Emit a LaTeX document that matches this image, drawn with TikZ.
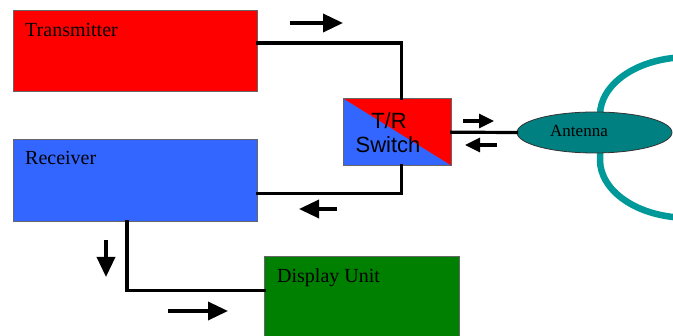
\documentclass[tikz,border=0pt]{standalone}
\usepackage{fontspec}
\setmainfont{Liberation Serif}
\newfontfamily\arialfont{Liberation Sans}
\usetikzlibrary{arrows.meta,shapes.geometric}
\definecolor{txred}{RGB}{255,0,0}
\definecolor{rxblue}{RGB}{51,102,255}
\definecolor{dgreen}{RGB}{0,128,0}
\definecolor{antteal}{RGB}{0,128,128}
\definecolor{loopteal}{RGB}{0,153,153}
\tikzset{
  blockbox/.style={rectangle, draw=black!60, line width=0.8pt, inner sep=0pt, anchor=north west},
  blocklabel/.style={anchor=base west, inner sep=0pt, font=\fontsize{20}{24}\selectfont},
  conn/.style={line width=3.2pt, line cap=rect},
  bigarrow/.style={line width=3.5pt, -{Triangle[length=20pt,width=18pt]}},
  smallarrow/.style={line width=3.2pt, -{Triangle[length=15pt,width=14pt]}},
}
\begin{document}
\begin{tikzpicture}[x=1pt,y=-1pt]
\useasboundingbox (0,0) rectangle (673,336);
% boxes
\node[blockbox, fill=txred, minimum width=244pt, minimum height=81pt] (tx) at (12.5,10.5) {};
\node[blocklabel] (txl) at (25,37) {Transmitter};
\node[blockbox, fill=rxblue, minimum width=244pt, minimum height=82pt] (rx) at (12.5,139) {};
\node[blocklabel] (rxl) at (25,165) {Receiver};
\node[blockbox, fill=dgreen, minimum width=195pt, minimum height=90pt] (dsp) at (264,256) {};
\node[blocklabel] (dspl) at (277,283) {Display Unit};
% T/R switch
\node[blockbox, fill=txred, minimum width=108pt, minimum height=67pt,
  path picture={\fill[rxblue] (path picture bounding box.north west) -- (path picture bounding box.south west) -- (path picture bounding box.south east) -- cycle;}] (sw) at (343,98.3) {};
\node[anchor=base, inner sep=0pt, font=\arialfont\fontsize{22}{24}\selectfont] (swa) at (389,129) {T/R};
\node[anchor=base, inner sep=0pt, font=\arialfont\fontsize{22}{24}\selectfont] (swb) at (388,153) {Switch};
% antenna loop
\coordinate (lpa) at (690,57);
\coordinate (lpb) at (600,115);
\coordinate (lpc) at (600,160);
\coordinate (lpd) at (690,218);
\draw[loopteal, line width=6.5pt] (lpa) .. controls (636,57) and (600,85) .. (lpb) -- (lpc) .. controls (600,190) and (636,218) .. (lpd);
% antenna
\node[ellipse, draw=black!80, line width=0.8pt, fill=antteal, minimum width=155pt, minimum height=41pt, inner sep=0pt] (ant) at (594.5,132.5) {};
\node[anchor=base west, inner sep=0pt, font=\fontsize{17}{20}\selectfont] (antl) at (550,137) {Antenna};
% connectors
\draw[conn] ([yshift=8.3pt]tx.east) -| ([xshift=4pt]sw.north);
\draw[conn] ([xshift=4pt]sw.south) |- ([yshift=-13pt]rx.east);
\draw[conn] ([xshift=-8pt]rx.south) |- ([yshift=11pt]dsp.west);
\draw[conn] (sw.east) -- (ant.west);
% direction arrows
\coordinate (a1s) at (290,23); \coordinate (a1e) at (343,23);
\draw[bigarrow] (a1s) -- (a1e);
\coordinate (a2s) at (463,121); \coordinate (a2e) at (494,121);
\draw[smallarrow] (a2s) -- (a2e);
\coordinate (a3s) at (497,145); \coordinate (a3e) at (465,145);
\draw[smallarrow] (a3s) -- (a3e);
\coordinate (a4s) at (337,209); \coordinate (a4e) at (299,209);
\draw[bigarrow] (a4s) -- (a4e);
\coordinate (a5s) at (106,240); \coordinate (a5e) at (106,277);
\draw[bigarrow] (a5s) -- (a5e);
\coordinate (a6s) at (168,311); \coordinate (a6e) at (228,311);
\draw[bigarrow] (a6s) -- (a6e);
\end{tikzpicture}
\end{document}
